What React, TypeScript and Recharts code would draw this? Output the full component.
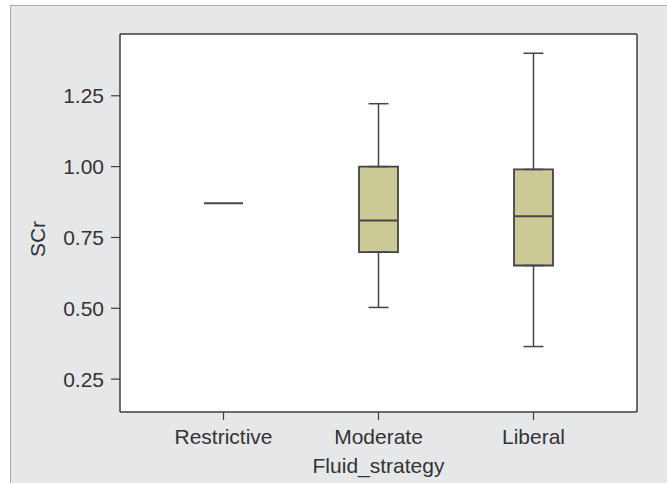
import React from 'react';
import { ComposedChart, Bar, Scatter, ErrorBar, XAxis, YAxis, CartesianGrid } from 'recharts';

const categories = ['Restrictive', 'Moderate', 'Liberal'];
const mins = [0.871, 0.503, 0.365];
const q1s = [0.871, 0.698, 0.651];
const medians = [0.871, 0.81, 0.825];
const q3s = [0.871, 1.0, 0.99];
const maxs = [0.871, 1.222, 1.4];
const yTicks = [0.25, 0.5, 0.75, 1.0, 1.25];
const yDomain = [0.134, 1.468];

const data = categories.map((name, i) => ({
  name,
  box: [q1s[i], q3s[i]],
  median: medians[i],
  hiBase: maxs[i] > q3s[i] ? q3s[i] : null,
  hiErr: [0, maxs[i] - q3s[i]],
  loBase: mins[i] < q1s[i] ? q1s[i] : null,
  loErr: [q1s[i] - mins[i], 0],
}));

const FONT = '"Liberation Sans", Arial, sans-serif';
const TEXT = '#333333';
const LINE = '#3e3e3e';

const MedianShape = (props: any) => {
  const { cx, cy } = props;
  if (cx == null || cy == null || isNaN(cy)) return <g />;
  return <line x1={cx - 19.5} x2={cx + 19.5} y1={cy} y2={cy} stroke="#474747" strokeWidth={2} />;
};

const Empty = () => <g />;

const YLabel = () => {
  const x = 44.5;
  const y = 239;
  return (
    <text x={x} y={y} transform={`rotate(-90 ${x} ${y})`} textAnchor="middle" fill={TEXT} fontSize={21} fontFamily={FONT}>
      SCr
    </text>
  );
};

export default function App() {
  return (
    <div style={{ position: 'fixed', left: 0, top: 0, width: 667, height: 483, background: '#ffffff', overflow: 'hidden' }}>
      <div
        style={{
          position: 'absolute',
          left: 10,
          top: 5,
          width: 680,
          height: 500,
          background: '#e6e7e9',
          borderLeft: '1.5px solid #a9a9a9',
          borderTop: '1.5px solid #a9a9a9',
        }}
      />
      <div style={{ position: 'absolute', left: 0, top: 0 }}>
        <ComposedChart width={667} height={483} data={data} margin={{ top: 34, right: 30, bottom: 0, left: 0 }}>
          <CartesianGrid
            fill="#ffffff"
            stroke={LINE}
            strokeWidth={1.5}
            horizontalCoordinatesGenerator={(p: any) => [p.offset.top]}
            verticalCoordinatesGenerator={(p: any) => [p.offset.left + p.offset.width]}
          />
          <XAxis
            dataKey="name"
            type="category"
            height={71}
            padding={{ left: 26, right: 26 }}
            axisLine={{ stroke: LINE, strokeWidth: 1.5 }}
            tickLine={{ stroke: LINE, strokeWidth: 1.2 }}
            tickSize={8}
            tickMargin={9}
            tick={{ fill: TEXT, fontSize: 21, fontFamily: FONT }}
            label={{ value: 'Fluid_strategy', position: 'insideBottom', offset: 10, fill: TEXT, fontSize: 21, fontFamily: FONT }}
          />
          <YAxis
            type="number"
            width={120}
            domain={yDomain}
            allowDataOverflow
            ticks={yTicks}
            tickFormatter={(v: number) => v.toFixed(2)}
            axisLine={{ stroke: LINE, strokeWidth: 1.5 }}
            tickLine={{ stroke: LINE, strokeWidth: 1.2 }}
            tickSize={9}
            tickMargin={7}
            tick={{ fill: TEXT, fontSize: 21, fontFamily: FONT }}
            label={<YLabel />}
          />
          <Bar dataKey="box" barSize={39} fill="#cbc995" stroke="#444444" strokeWidth={1.8} isAnimationActive={false} />
          <Scatter dataKey="hiBase" shape={<Empty />} isAnimationActive={false}>
            <ErrorBar dataKey="hiErr" direction="y" width={10} stroke="#444444" strokeWidth={1.5} />
          </Scatter>
          <Scatter dataKey="loBase" shape={<Empty />} isAnimationActive={false}>
            <ErrorBar dataKey="loErr" direction="y" width={10} stroke="#444444" strokeWidth={1.5} />
          </Scatter>
          <Scatter dataKey="median" shape={<MedianShape />} isAnimationActive={false} />
        </ComposedChart>
      </div>
    </div>
  );
}
